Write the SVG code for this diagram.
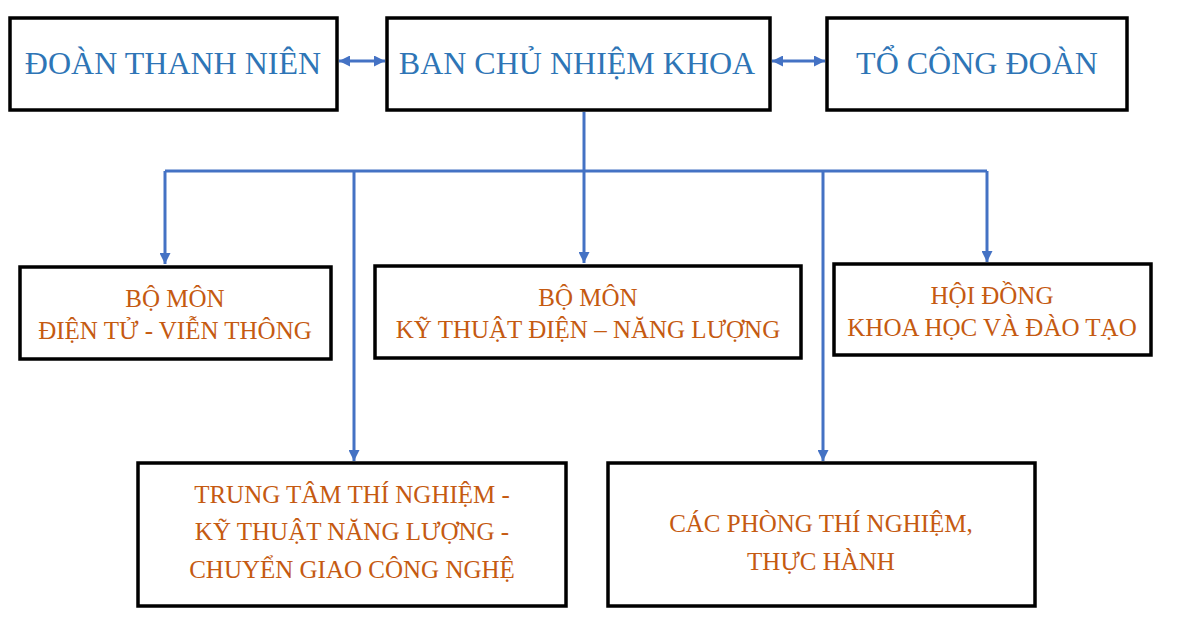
<svg xmlns="http://www.w3.org/2000/svg" width="1179" height="618" viewBox="0 0 1179 618">
<style>
.box{fill:#ffffff;stroke:#000000;stroke-width:3.5}
.t1{font-family:"Liberation Serif","Times New Roman",serif;font-size:32px;fill:#2E75B6;text-anchor:middle}
.t2{font-family:"Liberation Serif","Times New Roman",serif;font-size:25px;fill:#C55A11;text-anchor:middle}
.c{fill:none;stroke:#4472C4;stroke-width:3}
</style>
<defs>
<marker id="ah" viewBox="0 0 10 10" refX="10" refY="5" markerWidth="11" markerHeight="11" markerUnits="userSpaceOnUse" orient="auto-start-reverse">
<path d="M0,0 L10,5 L0,10 z" fill="#4472C4"/>
</marker>
</defs>
<rect width="1179" height="618" fill="#ffffff"/>
<g id="connectors">
<line class="c" x1="339" y1="61" x2="385" y2="61" marker-start="url(#ah)" marker-end="url(#ah)"/>
<line class="c" x1="772" y1="61" x2="825" y2="61" marker-start="url(#ah)" marker-end="url(#ah)"/>
<line class="c" x1="584" y1="112" x2="584" y2="171"/>
<line class="c" x1="165" y1="171" x2="987" y2="171"/>
<line class="c" x1="165" y1="171" x2="165" y2="264" marker-end="url(#ah)"/>
<line class="c" x1="584" y1="171" x2="584" y2="263" marker-end="url(#ah)"/>
<line class="c" x1="987" y1="171" x2="987" y2="262" marker-end="url(#ah)"/>
<line class="c" x1="354" y1="171" x2="354" y2="461" marker-end="url(#ah)"/>
<line class="c" x1="823" y1="171" x2="823" y2="461" marker-end="url(#ah)"/>
</g>
<g id="doan-thanh-nien">
<rect class="box" x="10" y="18" width="327" height="92"/>
<text class="t1" x="173" y="74">ĐOÀN THANH NIÊN</text>
</g>
<g id="ban-chu-nhiem-khoa">
<rect class="box" x="387" y="18" width="383" height="92"/>
<text class="t1" x="577" y="74">BAN CHỦ NHIỆM KHOA</text>
</g>
<g id="to-cong-doan">
<rect class="box" x="827" y="18" width="300" height="92"/>
<text class="t1" x="977" y="74">TỔ CÔNG ĐOÀN</text>
</g>
<g id="bo-mon-dtvt">
<rect class="box" x="20" y="267" width="311" height="92"/>
<text class="t2" x="175" y="307">BỘ MÔN</text>
<text class="t2" x="175" y="339">ĐIỆN TỬ - VIỄN THÔNG</text>
</g>
<g id="bo-mon-ktd">
<rect class="box" x="375" y="266" width="426" height="92"/>
<text class="t2" x="588" y="306">BỘ MÔN</text>
<text class="t2" x="588" y="338">KỸ THUẬT ĐIỆN – NĂNG LƯỢNG</text>
</g>
<g id="hoi-dong">
<rect class="box" x="834" y="264" width="317" height="91"/>
<text class="t2" x="992" y="304">HỘI ĐỒNG</text>
<text class="t2" x="992" y="336">KHOA HỌC VÀ ĐÀO TẠO</text>
</g>
<g id="trung-tam">
<rect class="box" x="138" y="463" width="428" height="143"/>
<text class="t2" x="352" y="503">TRUNG TÂM THÍ NGHIỆM -</text>
<text class="t2" x="352" y="540">KỸ THUẬT NĂNG LƯỢNG -</text>
<text class="t2" x="352" y="578">CHUYỂN GIAO CÔNG NGHỆ</text>
</g>
<g id="cac-phong">
<rect class="box" x="608" y="463" width="427" height="143"/>
<text class="t2" x="821" y="532">CÁC PHÒNG THÍ NGHIỆM,</text>
<text class="t2" x="821" y="570">THỰC HÀNH</text>
</g>
</svg>
